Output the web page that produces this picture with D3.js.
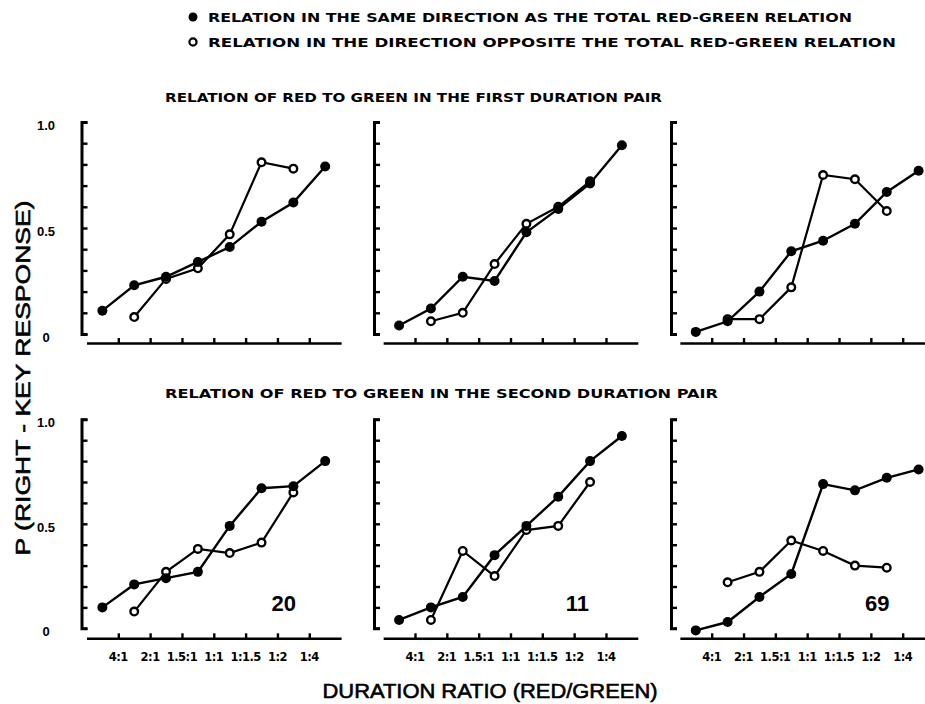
<!DOCTYPE html>
<html>
<head>
<meta charset="utf-8">
<script src="https://cdn.jsdelivr.net/npm/d3@7"></script>
<style>
  html, body { margin: 0; padding: 0; background: #fff; }
  svg { display: block; }
  text { fill: #000; }
</style>
</head>
<body>
<svg id="chart" width="925" height="704"></svg>
<script>
// Duration-ratio categories along each x axis
const ratioLabels = ["4:1", "2:1", "1.5:1", "1:1", "1:1.5", "1:2", "1:4"];

// Relation in the same direction as the total red-green relation (8 points per panel)
const sameFirst1  = [0.11, 0.23, 0.27, 0.34, 0.41, 0.53, 0.62, 0.79];
const sameFirst2  = [0.04, 0.12, 0.27, 0.25, 0.48, 0.59, 0.71, 0.89];
const sameFirst3  = [0.01, 0.06, 0.20, 0.39, 0.44, 0.52, 0.67, 0.77];
const sameSecond1 = [0.10, 0.21, 0.24, 0.27, 0.49, 0.67, 0.68, 0.80];
const sameSecond2 = [0.04, 0.10, 0.15, 0.35, 0.49, 0.63, 0.80, 0.92];
const sameSecond3 = [-0.01, 0.03, 0.15, 0.26, 0.69, 0.66, 0.72, 0.76];

// Relation in the direction opposite the total relation (6 inner points per panel)
const oppFirst1  = [0.08, 0.26, 0.31, 0.47, 0.81, 0.78];
const oppFirst2  = [0.06, 0.10, 0.33, 0.52, 0.60, 0.72];
const oppFirst3  = [0.07, 0.07, 0.22, 0.75, 0.73, 0.58];
const oppSecond1 = [0.08, 0.27, 0.38, 0.36, 0.41, 0.65];
const oppSecond2 = [0.04, 0.37, 0.25, 0.47, 0.49, 0.70];
const oppSecond3 = [0.22, 0.27, 0.42, 0.37, 0.30, 0.29];

// Subject numbers shown in the lower panels
const subjectLabels = ["20", "11", "69"];

const yTickLabels = [[1.0, "1.0"], [0.5, "0.5"], [0, "0"]];

const legendTexts = [
  "RELATION IN THE SAME DIRECTION AS THE TOTAL RED-GREEN RELATION",
  "RELATION IN THE DIRECTION OPPOSITE THE TOTAL RED-GREEN RELATION"
];
const rowTitles = [
  "RELATION OF RED TO GREEN IN THE FIRST DURATION PAIR",
  "RELATION OF RED TO GREEN IN THE SECOND DURATION PAIR"
];

// ---- layout ----
const svg = d3.select("#chart");
const unit = 31.83;                       // spacing between ratio ticks
const colTick1 = [118.3, 415, 711.7];     // x of the first ratio tick in each column
const colAxisX = [81.5, 374, 671];        // x of each vertical axis
const rows = [
  { top: 122, zero: 334, base: 343 },
  { top: 419.3, zero: 628.3, base: 638.3 }
];
const panels = [
  [sameFirst1, oppFirst1], [sameFirst2, oppFirst2], [sameFirst3, oppFirst3],
  [sameSecond1, oppSecond1], [sameSecond2, oppSecond2], [sameSecond3, oppSecond3]
];
const boldFont = "'DejaVu Sans', 'Liberation Sans', sans-serif";

panels.forEach(([same, opp], p) => {
  const r = Math.floor(p / 3), c = p % 3;
  const row = rows[r];
  const x = d3.scaleLinear().domain([0, 8])
    .range([colTick1[c] - unit, colTick1[c] + 7 * unit]);
  const y = d3.scaleLinear().domain([0, 1]).range([row.zero, row.top]);
  const g = svg.append("g");

  // vertical axis: bracket with inward ticks every 0.1
  const ya = g.append("g")
    .attr("transform", `translate(${colAxisX[c]},0)`)
    .call(d3.axisRight(y).tickValues(d3.range(0, 1.001, 0.1))
      .tickSize(6).tickSizeOuter(6).tickFormat(""));
  ya.select(".domain").attr("stroke", "#000").attr("stroke-width", 3);
  ya.selectAll(".tick line").attr("stroke", "#000").attr("stroke-width", 2.4);

  // horizontal axis: line with small upward ticks at each ratio
  const xa = g.append("g")
    .attr("transform", `translate(0,${row.base})`)
    .call(d3.axisTop(x).tickValues(d3.range(1, 8))
      .tickSize(5).tickSizeOuter(0).tickFormat(""));
  xa.select(".domain").attr("stroke", "#000").attr("stroke-width", 2.6);
  xa.selectAll(".tick line").attr("stroke", "#000").attr("stroke-width", 2.4);

  if (r === 1) {
    g.selectAll("text.xlab").data(ratioLabels).enter().append("text")
      .attr("x", (d, i) => x(i + 1)).attr("y", 661)
      .attr("text-anchor", "middle")
      .style("font-family", boldFont).style("font-weight", "bold")
      .style("font-size", "11.5px").style("letter-spacing", "-0.5px")
      .text(d => d);
    g.append("text")
      .attr("x", x(c === 1 ? 6.1 : 6.2)).attr("y", 611)
      .attr("text-anchor", "middle")
      .style("font-family", "'Liberation Sans', sans-serif").style("font-weight", "bold")
      .style("font-size", "22px")
      .text(subjectLabels[c]);
  }

  if (c === 0) {
    g.selectAll("text.ylab").data(yTickLabels).enter().append("text")
      .attr("x", 46).attr("y", d => y(d[0]) + 8)
      .attr("text-anchor", "middle")
      .style("font-family", "'Liberation Sans', sans-serif").style("font-weight", "bold")
      .style("font-size", "13px")
      .text(d => d[1]);
  }

  const sameData = same.map((v, i) => ({ pos: i + 0.5, v }));
  const oppData = opp.map((v, i) => ({ pos: i + 1.5, v }));
  const line = d3.line().x(d => x(d.pos)).y(d => y(d.v));

  g.append("path").datum(oppData).attr("d", line)
    .attr("fill", "none").attr("stroke", "#000").attr("stroke-width", 2.2);
  g.append("path").datum(sameData).attr("d", line)
    .attr("fill", "none").attr("stroke", "#000").attr("stroke-width", 2.4);

  g.selectAll("circle.opp").data(oppData).enter().append("circle")
    .attr("cx", d => x(d.pos)).attr("cy", d => y(d.v)).attr("r", 3.8)
    .attr("fill", "#fff").attr("stroke", "#000").attr("stroke-width", 2.4);
  g.selectAll("circle.same").data(sameData).enter().append("circle")
    .attr("cx", d => x(d.pos)).attr("cy", d => y(d.v)).attr("r", 5)
    .attr("fill", "#000");
});

// ---- legend ----
const legendY = [17, 42];
const legendEnd = [852, 896];
legendTexts.forEach((t, i) => {
  svg.append("circle").attr("cx", 193).attr("cy", legendY[i]).attr("r", i === 0 ? 4.5 : 3.6)
    .attr("fill", i === 0 ? "#000" : "#fff").attr("stroke", "#000")
    .attr("stroke-width", i === 0 ? 0 : 2.2);
  svg.append("text").attr("x", 208).attr("y", legendY[i] + 5)
    .attr("textLength", legendEnd[i] - 208).attr("lengthAdjust", "spacingAndGlyphs")
    .style("font-family", boldFont).style("font-weight", "bold").style("font-size", "12.5px")
    .text(t);
});

// ---- row titles ----
const rowTitleY = [102, 398];
const rowTitleEnd = [662, 718];
rowTitles.forEach((t, i) => {
  svg.append("text").attr("x", 165).attr("y", rowTitleY[i])
    .attr("textLength", rowTitleEnd[i] - 165).attr("lengthAdjust", "spacingAndGlyphs")
    .style("font-family", boldFont).style("font-weight", "bold").style("font-size", "12px")
    .text(t);
});

// ---- axis titles (regular face with a light outline for a heavier stroke) ----
svg.append("text")
  .attr("transform", "translate(30,378) rotate(-90)")
  .attr("text-anchor", "middle")
  .attr("textLength", 355).attr("lengthAdjust", "spacingAndGlyphs")
  .attr("stroke", "#000").attr("stroke-width", 0.6)
  .style("font-family", "'Liberation Sans', sans-serif").style("font-size", "21px")
  .text("P (RIGHT - KEY RESPONSE)");

svg.append("text")
  .attr("x", 490).attr("y", 698)
  .attr("text-anchor", "middle")
  .attr("textLength", 335).attr("lengthAdjust", "spacingAndGlyphs")
  .attr("stroke", "#000").attr("stroke-width", 0.6)
  .style("font-family", "'Liberation Sans', sans-serif").style("font-size", "21px")
  .text("DURATION RATIO (RED/GREEN)");
</script>
</body>
</html>
